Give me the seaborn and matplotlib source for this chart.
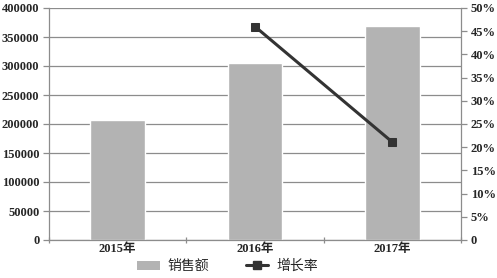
import matplotlib
matplotlib.use("Agg")
import matplotlib.pyplot as plt
import seaborn as sns
import pandas as pd
from matplotlib.patches import Patch
from matplotlib.lines import Line2D
from matplotlib.ticker import FuncFormatter, FixedLocator

categories = ["2015年", "2016年", "2017年"]
sales = [207000, 305000, 369000]
growth_years = ["2016年", "2017年"]
growth = [46.0, 21.1]
left_ticks = [0, 50000, 100000, 150000, 200000, 250000, 300000, 350000, 400000]
right_ticks = [0, 5, 10, 15, 20, 25, 30, 35, 40, 45, 50]

sns.set_theme(style="white")
serif = ["Liberation Serif", "Noto Sans CJK SC"]
cjk = ["Noto Sans CJK SC", "DejaVu Sans"]

fig = plt.figure(figsize=(4.97, 2.78), dpi=100)
ax = fig.add_axes([49/497, 38/278, 412/497, 232/278])

df = pd.DataFrame({"year": categories, "sales": sales})
sns.barplot(data=df, x="year", y="sales", color="#b3b3b3", saturation=1,
            width=0.4, ax=ax, order=categories)
ax.set_ylim(0, 400000)
ax.set_xlim(-0.5, 2.5)
ax.set_yticks(left_ticks)
ax.yaxis.set_major_formatter(FuncFormatter(lambda v, p: f"{int(v)}"))
ax.set_xlabel("")
ax.set_ylabel("")
ax.grid(axis="y", color="#8c8c8c", linewidth=0.9)
ax.set_axisbelow(True)
for s in ["left", "bottom"]:
    ax.spines[s].set_color("#8c8c8c")
    ax.spines[s].set_linewidth(0.9)
for s in ["top", "right"]:
    ax.spines[s].set_visible(False)
ax.tick_params(axis="y", which="major", length=4, color="#8c8c8c", width=0.9,
               left=True, pad=3)
ax.tick_params(axis="x", which="major", length=0, pad=2)
ax.xaxis.set_minor_locator(FixedLocator([-0.5, 0.5, 1.5, 2.5]))
ax.tick_params(axis="x", which="minor", length=4, direction="inout",
               color="#8c8c8c", width=0.9, bottom=True)
for lab in ax.get_yticklabels():
    lab.set_fontfamily(serif)
    lab.set_fontweight("bold")
    lab.set_fontsize(9)
for lab in ax.get_xticklabels():
    lab.set_fontfamily(serif)
    lab.set_fontweight("bold")
    lab.set_fontsize(9)

ax2 = ax.twinx()
xpos = [categories.index(y) for y in growth_years]
gdf = pd.DataFrame({"x": xpos, "g": growth})
sns.lineplot(data=gdf, x="x", y="g", ax=ax2, color="#333333", linewidth=2.2,
             marker="s", markersize=6, markeredgecolor="#333333")
ax2.set_ylim(0, 50)
ax2.set_xlim(-0.5, 2.5)
ax2.set_yticks(right_ticks)
ax2.yaxis.set_major_formatter(FuncFormatter(lambda v, p: "0" if v == 0 else f"{int(v)}%"))
ax2.set_ylabel("")
ax2.set_xlabel("")
ax2.grid(False)
for s in ["top", "left", "bottom"]:
    ax2.spines[s].set_visible(False)
ax2.spines["right"].set_color("#8c8c8c")
ax2.spines["right"].set_linewidth(0.9)
ax2.tick_params(axis="y", length=4, color="#8c8c8c", width=0.9, right=True, pad=3)
for lab in ax2.get_yticklabels():
    lab.set_fontfamily(serif)
    lab.set_fontweight("bold")
    lab.set_fontsize(9)

handles = [Patch(facecolor="#b3b3b3", edgecolor="none"),
           Line2D([0], [0], color="#333333", linewidth=2.2, marker="s", markersize=6)]
leg = fig.legend(handles, ["销售额", "增长率"], loc="center", bbox_to_anchor=(0.458, 0.043),
                 ncol=2, frameon=False, prop={"family": cjk, "size": 10},
                 handlelength=1.6, handleheight=0.6, columnspacing=2.6, handletextpad=0.6,
                 borderpad=0, borderaxespad=0)

fig.savefig("out.png", dpi=100)
